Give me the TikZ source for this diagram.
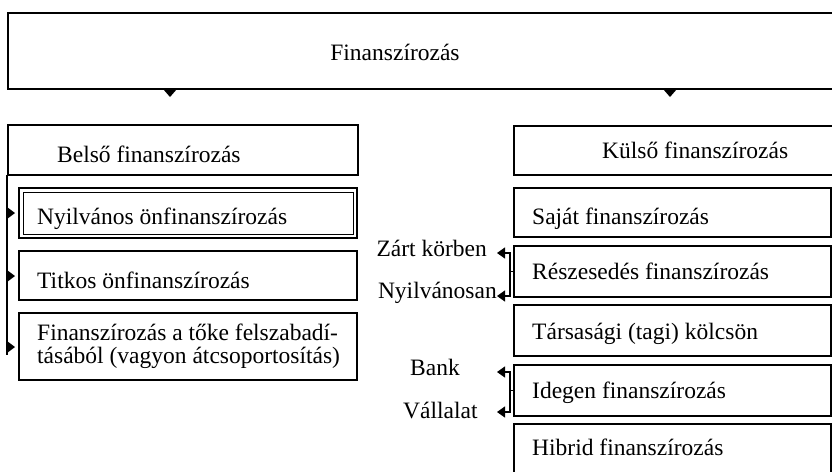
\documentclass[tikz,border=0pt]{standalone}
\usepackage{fontspec}
\setmainfont{Liberation Serif}
\usetikzlibrary{arrows.meta}
\begin{document}
\begin{tikzpicture}[x=1pt,y=-1pt,
  boxline/.style={draw=black,line width=1.3pt},
  txt/.style={inner sep=0pt,anchor=base west,font=\fontsize{23.5}{23.5}\selectfont},
  tipfree/.style={fill=black,draw=none},
  smalltip/.style={-{Triangle[width=11pt,length=8pt]},line width=1.3pt}]
\useasboundingbox (0,0) rectangle (832,471);
\clip (0,0) rectangle (832,471);
% top box
\draw[boxline] (840,13) -- (8,13) -- (8,89) -- (840,89);
\node[txt,anchor=base] (fin) at (395,60) {Finanszírozás};
\coordinate (topL) at (170,89);
\coordinate (topR) at (670,89);
\fill[tipfree] (topL) ++(-7,0) -- ++(14,0) -- ++(-7,8) -- cycle;
\fill[tipfree] (topR) ++(-7,0) -- ++(14,0) -- ++(-7,8) -- cycle;
% left column
\draw[boxline] (8,125) rectangle (358,175);
\node[txt] (belso) at (57,162) {Belső finanszírozás};
\draw[boxline] (19,188) rectangle (357,238);
\draw[line width=1pt] (23,192) rectangle (353,234);
\node[txt] (nyilv) at (37,224) {Nyilvános önfinanszírozás};
\draw[boxline] (19,251) rectangle (357,300);
\node[txt] (titkos) at (37,288) {Titkos önfinanszírozás};
\draw[boxline] (19,313) rectangle (357,380);
\node[txt] (toke1) at (37,340) {Finanszírozás a tőke felszabadí-};
\node[txt] (toke2) at (37,363) {tásából (vagyon átcsoportosítás)};
% left spine
\coordinate (spTop) at (7,175);
\coordinate (spBot) at (7,355);
\draw[line width=1.3pt] (spTop) -- (spBot);
\coordinate (a1) at (7,213);
\coordinate (a2) at (7,276);
\coordinate (a3) at (7,347);
\fill[tipfree] (a1) ++(0,-6) -- ++(8,6) -- ++(-8,6) -- cycle;
\fill[tipfree] (a2) ++(0,-6) -- ++(8,6) -- ++(-8,6) -- cycle;
\fill[tipfree] (a3) ++(0,-6) -- ++(8,6) -- ++(-8,6) -- cycle;
% right column
\draw[boxline] (840,126) -- (514,126) -- (514,175) -- (840,175);
\node[txt] (kulso) at (602,158) {Külső finanszírozás};
\draw[boxline] (514,188) rectangle (831,237);
\node[txt] (sajat) at (532,224) {Saját finanszírozás};
\draw[boxline] (514,246) rectangle (831,297);
\node[txt] (resz) at (532,279) {Részesedés finanszírozás};
\draw[boxline] (514,305) rectangle (831,356);
\node[txt] (tars) at (532,339) {Társasági (tagi) kölcsön};
\draw[boxline] (514,365) rectangle (831,416);
\node[txt] (ideg) at (532,398) {Idegen finanszírozás};
\draw[boxline] (514,424) rectangle (831,480);
\node[txt] (hib) at (532,455) {Hibrid finanszírozás};
% bracket Részesedés
\coordinate (r0) at (514,271.5);
\coordinate (r1) at (510,271.5);
\coordinate (rz) at (497,253);
\coordinate (rn) at (497,296);
\draw[line width=1.3pt] (r0) -- (r1);
\draw[smalltip] (r1) |- (rz);
\draw[smalltip] (r1) |- (rn);
\node[txt,anchor=base east] (zart) at (487,256) {Zárt körben};
\node[txt,anchor=base east] (nyil2) at (497,298) {Nyilvánosan};
% bracket Idegen
\coordinate (i0) at (514,390.5);
\coordinate (i1) at (510,390.5);
\coordinate (ib) at (497,372);
\coordinate (iv) at (497,412);
\draw[line width=1.3pt] (i0) -- (i1);
\draw[smalltip] (i1) |- (ib);
\draw[smalltip] (i1) |- (iv);
\node[txt] (bank) at (410,375) {Bank};
\node[txt] (vall) at (403,418) {Vállalat};
\end{tikzpicture}
\end{document}
